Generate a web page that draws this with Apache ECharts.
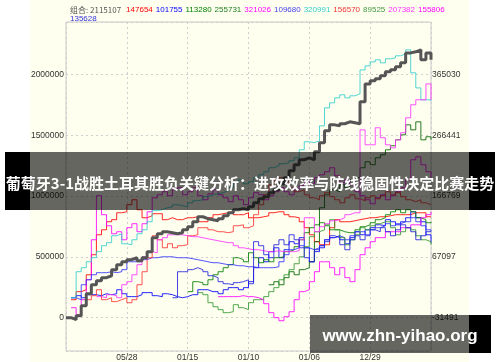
<!DOCTYPE html>
<html>
<head>
<meta charset="utf-8">
<script src="https://cdn.jsdelivr.net/npm/echarts@6/dist/echarts.min.js"></script>
<style>html,body{margin:0;padding:0;background:#fff}#c{width:500px;height:362px}</style>
</head>
<body>
<div id="c"></div>
<script>
// ---------------- data ----------------
const xTickLabels = ['', '05/28', '01/15', '01/10', '01/06', '12/29', ''];
const rightTickLabels = ['-31491', '67097', '166769', '266441', '365030'];
const titleText = '葡萄牙3-1战胜土耳其胜负关键分析：进攻效率与防线稳固性决定比赛走势';
const watermarkText = 'www.zhn-yihao.org';
const comboName = '组合';
const comboLegendValue = '2115107';
const legendValues = ['147654','101755','113280','255731','321026','109680','320991','156570','89525','207382','155806','135628'];

const combo = [0,-16000,16000,99000,197000,271000,304000,329000,345000,395000,436000,460000,477000,493000,468000,493000,543000,658000,690000,707000,699000,690000,699000,723000,748000,789000,830000,814000,806000,797000,814000,838000,863000,888000,896000,888000,912000,945000,978000,995000,1028000,1052000,1101000,1151000,1208000,1258000,1299000,1315000,1299000,1365000,1439000,1537000,1586000,1578000,1595000,1611000,1603000,1595000,1776000,1923000,1948000,1965000,1989000,2022000,2039000,2063000,2096000,2178000,2187000,2203000,2121000,2178000,2121000];
const comboStart = 0;

const s147654 = [148000,214000,230000,353000,518000,682000,723000,789000,806000,863000,871000,929000,970000,888000,822000,838000,855000,855000,806000,822000,806000,806000,822000,822000,830000,789000,789000,822000,847000,855000,863000,871000,847000,847000,863000,822000,822000,830000,838000,863000,871000,871000,847000,830000,822000,789000,740000,682000,625000,600000,600000,740000,806000,789000,789000,797000,806000,814000,822000,822000,830000,830000,838000,847000,847000,847000,847000,863000,863000,863000,830000,830000];
const s147654Start = 1;

const s101755 = [164000,181000,164000,189000,189000,181000,197000,189000,197000,230000,197000,173000,173000,189000,206000,206000,181000,173000,197000,189000,173000,164000,173000,189000,189000,230000,230000,214000,214000,197000,230000,247000,247000,230000,247000,296000,411000,493000,460000,543000,575000,493000,559000,625000,608000,658000,575000,460000,543000,575000,641000,658000,674000,641000,608000,658000,707000,682000,723000,740000,764000,756000,806000,789000,764000,789000,822000,871000,822000,789000,682000,617000];
const s101755Start = 1;

const s113280 = [214000,296000,288000,271000,312000,353000,378000,411000,436000,493000,477000,460000,534000,493000,452000,477000,460000,493000,501000,543000,559000,584000,641000,699000,740000,764000,781000,756000,723000,723000,707000,699000,699000,723000,748000,764000,781000,806000,822000,847000,871000,888000,863000,888000,871000,822000,806000,781000,789000];
const s113280Start = 24;

const s255731 = [271000,296000,271000,329000,378000,353000,395000,411000,460000,625000,904000,1011000,1052000,1036000,1093000,1069000,1134000,1151000,1233000,1282000,1258000,1315000,1340000,1381000,1414000,1463000,1504000,1586000,1545000,1611000,1463000,1488000,1463000];
const s255731Start = 40;

const s321026 = [82000,25000,148000,312000,641000,1003000,847000,756000,690000,707000,641000,740000,773000,707000,773000,871000,986000,1011000,1036000,1003000,1052000,1069000,1011000,1036000,1069000,1003000,970000,1019000,1052000,1011000,986000,954000,1003000,970000,929000,986000,1028000,1011000,970000,1003000,1036000,1069000,1036000,1011000,1052000,1085000,1118000,1101000,1151000,1175000,1200000,1233000,1167000,1110000,1134000,1093000,1036000,1003000,970000,937000,986000,1011000,970000,1003000,1036000,1069000,1134000,1299000,1323000,1258000,1200000,1151000];
const s321026Start = 1;

const s109680 = [164000,148000,271000,312000,353000,370000,370000,378000,370000,378000,395000,460000,460000,460000,477000,493000,493000,501000,501000,501000,493000,493000,493000,485000,477000,469000,460000,452000,452000,444000,436000,436000,427000,427000,419000,419000,411000,411000,411000,411000,419000,460000,518000,559000,575000,592000,575000,559000,575000,592000,641000,658000,674000,658000,641000,674000,707000,707000,682000,723000,740000,756000,773000,756000,773000,789000,789000,822000,789000,756000,723000,723000];
const s109680Start = 1;

const s320991 = [164000,378000,411000,460000,493000,543000,592000,617000,674000,690000,608000,600000,641000,690000,723000,789000,880000,888000,904000,912000,929000,921000,912000,945000,962000,970000,995000,1011000,1019000,1028000,1044000,1069000,1110000,1134000,1101000,1118000,1151000,1175000,1200000,1233000,1249000,1266000,1274000,1291000,1315000,1381000,1447000,1439000,1455000,1578000,1726000,1767000,1808000,1833000,1808000,1825000,1841000,2038000,2071000,2104000,2121000,2096000,2129000,2137000,2154000,2170000,2203000,2014000,1890000,1792000,1792000,1784000];
const s320991Start = 1;

const s156570 = [148000,181000,230000,148000,164000,132000,148000,164000,123000,148000,271000,378000,493000,674000,641000,575000,608000,575000,592000,600000,674000,682000,740000,740000,723000,707000,707000,699000,707000,756000,764000,740000,756000,847000,929000,1011000,1093000,1134000,1151000,1118000,1069000,1036000,1052000,1011000,986000,970000,1003000,1028000,995000,970000,945000,986000,1011000,978000,962000,986000,1003000,978000,1003000,1036000,1011000,1028000,995000,970000,954000,970000,945000,929000,929000];
const s156570Start = 4;

const s89525 = [206000,189000,123000,90000,66000,41000,49000,107000,82000,66000,123000,148000,148000,173000,214000,247000,312000,353000,395000,444000,501000,584000,666000,707000,723000,764000,806000,723000,658000,600000,641000,682000,740000,723000,756000,773000,789000,789000,740000,682000,707000,740000,723000,674000,641000,625000,600000];
const s89525Start = 26;

const s207382 = [173000,164000,189000,181000,164000,271000,296000,353000,436000,501000,543000,534000,641000,658000,682000,682000,682000,674000,666000,666000,658000,649000,641000,633000,625000,617000,617000,592000,575000,567000,559000,559000,551000,543000,543000,551000,543000,543000,543000,551000,641000,822000,822000,707000,748000,773000,797000,806000,822000,847000,863000,863000,1545000,1422000,1422000,1562000,1480000,1422000,1397000,1463000,1521000,1644000,1751000,1792000,1792000,1923000,1792000];
const s207382Start = 6;

const s155806 = [173000,173000,173000,173000,181000,173000,173000,164000,148000,115000,41000,0,-25000,8000,49000,148000,214000,230000,296000,378000,460000,460000,411000,353000,411000,329000,296000,395000,518000,575000,625000,658000,658000,707000,707000,707000,740000,740000,764000,764000,822000,847000,871000];
const s155806Start = 30;

const s135628 = [164000,378000,378000,395000,411000,395000,378000,345000,329000,296000,279000,271000,288000,296000,312000,279000,625000,592000,518000,493000,600000,641000,600000,682000,641000,575000,493000,460000,559000,592000,625000,674000,658000,600000,559000,641000,674000,641000,674000,723000,707000,740000,707000,674000,723000,764000,740000,707000,641000,674000,707000,723000];
const s135628Start = 21;

// ---------------- chart ----------------
const chart = echarts.init(document.getElementById('c'), null, {renderer: 'canvas'});
const toPts = (arr, start) => arr.map((v, k) => [start + k, v]);

const lineDefs = [
  {name: '147654', data: s147654, start: s147654Start, color: '#ff0000'},
  {name: '101755', data: s101755, start: s101755Start, color: '#0000ff'},
  {name: '113280', data: s113280, start: s113280Start, color: '#008000'},
  {name: '255731', data: s255731, start: s255731Start, color: '#006400'},
  {name: '321026', data: s321026, start: s321026Start, color: '#ff00ff'},
  {name: '109680', data: s109680, start: s109680Start, color: '#3333ff'},
  {name: '320991', data: s320991, start: s320991Start, color: '#33cccc'},
  {name: '156570', data: s156570, start: s156570Start, color: '#ff3333'},
  {name: '89525',  data: s89525,  start: s89525Start,  color: '#339933'},
  {name: '207382', data: s207382, start: s207382Start, color: '#ff33ff'},
  {name: '155806', data: s155806, start: s155806Start, color: '#ff00ff'},
  {name: '135628', data: s135628, start: s135628Start, color: '#2222dd'}
];
const legendColors = ['#ff0000','#0000ff','#008000','#208020','#ff00ff','#4444ee','#33cccc','#ee3333','#449944','#ff33ff','#ff00ff','#3333dd'];

const series = lineDefs.map(d => ({
  name: d.name, type: 'line', step: 'end', symbol: 'none', silent: true,
  data: toPts(d.data, d.start),
  lineStyle: {color: d.color, width: 1, opacity: 0.85}, z: 3
}));
series.push({
  name: comboName, type: 'line', step: 'end', symbol: 'none', silent: true,
  data: toPts(combo, comboStart),
  lineStyle: {color: '#555555', width: 3}, z: 4
});

// legend line as rich text
const rich = {g: {color: '#555', fontSize: 8, fontWeight: 'normal', fontFamily: 'Noto Sans CJK SC', padding: [0, 5, 0, 0]}};
let legendStr = '{g|' + comboName + ': ' + comboLegendValue + '}';
legendValues.forEach((v, k) => {
  rich['c' + k] = {color: legendColors[k], fontSize: 8, fontWeight: 'normal', fontFamily: 'Liberation Sans', padding: [0, 3, 0, 0]};
  if (k === legendValues.length - 1) legendStr += '\n';
  legendStr += '{c' + k + '|' + v + '}';
});

const axisFont = {fontSize: 8.5, fontFamily: 'Liberation Sans', color: '#333'};

chart.setOption({
  animation: false,
  backgroundColor: '#ffffff',
  title: {text: legendStr, left: 65, top: 0, textStyle: {rich: rich, lineHeight: 9, fontSize: 8, fontWeight: 'normal'}},
  grid: {left: 66, right: 69, top: 22, bottom: 11, show: true, borderColor: '#c8c8c8', borderWidth: 1, backgroundColor: 'transparent'},
  xAxis: {
    type: 'value', min: 0, max: 72, interval: 12,
    axisLine: {show: false}, axisTick: {show: false},
    splitLine: {show: true, lineStyle: {color: '#cfcfcf', type: [2, 3]}},
    axisLabel: Object.assign({margin: 2, showMinLabel: false, showMaxLabel: false,
      formatter: v => xTickLabels[Math.round(v / 12)] || ''}, axisFont)
  },
  yAxis: [{
    type: 'value', min: -274000, max: 2432000, splitNumber: 5, position: 'left',
    axisLine: {show: false}, axisTick: {show: false},
    splitLine: {show: true, lineStyle: {color: '#cfcfcf', type: [2, 3]}},
    axisLabel: Object.assign({margin: 2, showMinLabel: false, showMaxLabel: false,
      formatter: v => String(Math.round(v))}, axisFont)
  }, {
    type: 'value', min: -274000, max: 2432000, splitNumber: 5, position: 'right',
    axisLine: {show: false}, axisTick: {show: false}, splitLine: {show: false},
    axisLabel: Object.assign({margin: 1, showMinLabel: false, showMaxLabel: false,
      formatter: v => {const k = Math.round(v / 500000); return (Math.abs(v - k * 500000) < 1 && k >= 0 && k < rightTickLabels.length) ? rightTickLabels[k] : '';}}, axisFont)
  }],
  series: series,
  graphic: [
    {type: 'rect', z: -10, silent: true, shape: {x: 30, y: 0, width: 439, height: 362}, style: {fill: '#fffff0'}},
    {type: 'rect', z: 100, silent: true, shape: {x: 30, y: 152, width: 439, height: 58}, style: {fill: 'rgba(0,0,0,0.6)'}},
    {type: 'rect', z: 100, silent: true, shape: {x: 5, y: 152, width: 25, height: 58}, style: {fill: '#000'}},
    {type: 'rect', z: 100, silent: true, shape: {x: 469, y: 152, width: 26, height: 58}, style: {fill: '#000'}},
    {type: 'text', z: 101, silent: true, x: 250, y: 183, style: {text: titleText, fill: '#fff', font: 'bold 15px "Noto Sans CJK SC"', textAlign: 'center', textVerticalAlign: 'middle'}},
    {type: 'rect', z: 100, silent: true, shape: {x: 310, y: 315, width: 159, height: 38}, style: {fill: 'rgba(0,0,0,0.6)'}},
    {type: 'rect', z: 100, silent: true, shape: {x: 469, y: 315, width: 22, height: 38}, style: {fill: '#000'}},
    {type: 'text', z: 101, silent: true, x: 400, y: 336, style: {text: watermarkText, fill: '#fff', font: 'bold 17px "Liberation Sans"', textAlign: 'center', textVerticalAlign: 'middle'}}
  ]
});
</script>
</body>
</html>
